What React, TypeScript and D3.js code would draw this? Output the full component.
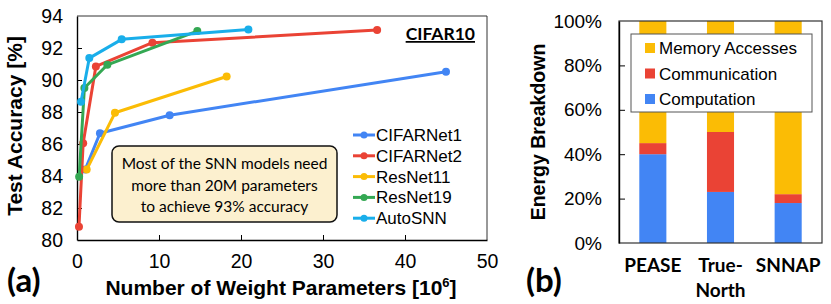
import { useEffect, useRef } from 'react';
import * as d3 from 'd3';

// ---- data: panel (a) accuracy vs. weight parameters (millions) ----
const seriesNames = ['CIFARNet1', 'CIFARNet2', 'ResNet11', 'ResNet19', 'AutoSNN'];
const seriesColors = ['#4285F4', '#EA4335', '#FBBC05', '#34A853', '#19AEEA'];
const cifarNet1Params = [1.0, 2.8, 11.3, 45.0];
const cifarNet1Acc = [84.4, 86.67, 87.8, 90.52];
const cifarNet2Params = [0.24, 0.75, 2.3, 9.2, 36.6];
const cifarNet2Acc = [80.83, 86.04, 90.85, 92.33, 93.12];
const resNet11Params = [1.18, 4.63, 18.25];
const resNet11Acc = [84.4, 87.95, 90.22];
const resNet19Params = [0.26, 0.9, 3.7, 14.67];
const resNet19Acc = [83.95, 89.5, 90.95, 93.06];
const autoSnnParams = [0.49, 1.5, 5.45, 20.9];
const autoSnnAcc = [88.64, 91.37, 92.54, 93.16];
const xTicksA = [0, 10, 20, 30, 40, 50];
const yTicksA = [80, 82, 84, 86, 88, 90, 92, 94];
const noteLines = ['Most of the SNN models need', 'more than 20M parameters', 'to achieve 93% accuracy'];

// ---- data: panel (b) energy breakdown (%) ----
const platforms = ['PEASE', 'TrueNorth', 'SNNAP'];
const platformLabels = [['PEASE'], ['True-', 'North'], ['SNNAP']];
const computation = [40, 23, 18];
const communication = [5, 27, 4];
const memoryAccesses = [55, 50, 78];
const energyKeys = ['computation', 'communication', 'memory'];
const energyNames = ['Memory Accesses', 'Communication', 'Computation'];
const energyColors = ['#4285F4', '#EA4335', '#FBBC05'];
const yTicksB = [0, 20, 40, 60, 80, 100];

const ARIAL = '"Liberation Sans", Arial, sans-serif';
const CALIBRI = 'Lato, "Open Sans", sans-serif';

const App = () => {
  const ref = useRef<SVGSVGElement>(null);

  useEffect(() => {
    const svg = d3.select(ref.current);
    svg.selectAll('*').remove();

    // ================= panel (a) =================
    const xA = d3.scaleLinear().domain([0, 50]).range([77, 487]);
    const yA = d3.scaleLinear().domain([80, 94]).range([240, 16]);

    const gA = svg.append('g');

    // frame (top and right)
    gA.append('line').attr('x1', xA(0)).attr('x2', xA(50)).attr('y1', yA(94)).attr('y2', yA(94))
      .attr('stroke', '#333').attr('stroke-width', 1);
    gA.append('line').attr('x1', xA(50)).attr('x2', xA(50)).attr('y1', yA(94)).attr('y2', yA(80))
      .attr('stroke', '#333').attr('stroke-width', 1);

    const xAxisA = gA.append('g')
      .attr('transform', `translate(0, ${yA(80)})`)
      .call(d3.axisBottom(xA).tickValues(xTicksA).tickSizeInner(-5).tickSizeOuter(0).tickPadding(14));
    const yAxisA = gA.append('g')
      .attr('transform', `translate(${xA(0)}, 0)`)
      .call(d3.axisLeft(yA).tickValues(yTicksA).tickSizeInner(-5).tickSizeOuter(0).tickPadding(14));
    [xAxisA, yAxisA].forEach(ax => {
      ax.select('.domain').attr('stroke', '#000').attr('stroke-width', 1.4);
      ax.selectAll('.tick line').attr('stroke', '#000');
      ax.selectAll('.tick text').attr('font-family', ARIAL).attr('font-size', 19.5).attr('fill', '#000');
    });
    // tick lines at the ends sit on the frame
    xAxisA.selectAll('.tick line').filter((d: any) => d === 0 || d === 50).remove();
    yAxisA.selectAll('.tick line').filter((d: any) => d === 80 || d === 94).remove();

    // annotation box
    gA.append('rect')
      .attr('x', 112).attr('y', 146).attr('width', 225).attr('height', 76)
      .attr('rx', 7).attr('fill', '#FCF0CF').attr('stroke', '#111').attr('stroke-width', 1.5);
    noteLines.forEach((t, i) => {
      gA.append('text')
        .attr('x', 224.5).attr('y', 169 + i * 21.7)
        .attr('text-anchor', 'middle')
        .attr('font-family', CALIBRI).attr('font-size', 15.5).attr('fill', '#000')
        .text(t);
    });

    // series
    const params = [cifarNet1Params, cifarNet2Params, resNet11Params, resNet19Params, autoSnnParams];
    const accs = [cifarNet1Acc, cifarNet2Acc, resNet11Acc, resNet19Acc, autoSnnAcc];
    const line = d3.line<[number, number]>().x(d => xA(d[0])).y(d => yA(d[1]));
    const drawOrder = [0, 2, 1, 3, 4];
    drawOrder.forEach(s => {
      const pts: [number, number][] = params[s].map((p, i) => [p, accs[s][i]]);
      gA.append('path').datum(pts)
        .attr('fill', 'none').attr('stroke', seriesColors[s]).attr('stroke-width', 3)
        .attr('stroke-linejoin', 'round').attr('d', line);
      gA.selectAll(null).data(pts).enter().append('circle')
        .attr('cx', d => xA(d[0])).attr('cy', d => yA(d[1])).attr('r', 4)
        .attr('fill', seriesColors[s]);
    });

    // CIFAR10 label
    gA.append('text').attr('x', 475).attr('y', 40).attr('text-anchor', 'end')
      .attr('font-family', CALIBRI).attr('font-weight', 'bold').attr('font-size', 17.5)
      .attr('text-decoration', 'underline').attr('fill', '#000').text('CIFAR10');

    // legend
    seriesNames.forEach((name, i) => {
      const y = 135 + i * 20.8;
      gA.append('line').attr('x1', 353).attr('x2', 375).attr('y1', y).attr('y2', y)
        .attr('stroke', seriesColors[i]).attr('stroke-width', 3);
      gA.append('circle').attr('cx', 364).attr('cy', y).attr('r', 3.5).attr('fill', seriesColors[i]);
      gA.append('text').attr('x', 376).attr('y', y + 6)
        .attr('font-family', ARIAL).attr('font-size', 17).attr('fill', '#000').text(name);
    });

    // axis titles
    gA.append('text')
      .attr('transform', `translate(22, 126) rotate(-90)`)
      .attr('text-anchor', 'middle')
      .attr('font-family', ARIAL).attr('font-weight', 'bold').attr('font-size', 21).attr('fill', '#000')
      .text('Test Accuracy [%]');
    const xt = gA.append('text')
      .attr('x', 281).attr('y', 295).attr('text-anchor', 'middle')
      .attr('font-family', ARIAL).attr('font-weight', 'bold').attr('font-size', 21).attr('fill', '#000');
    xt.append('tspan').text('Number of Weight Parameters [10');
    xt.append('tspan').attr('font-size', 13).attr('dy', -8).text('6');
    xt.append('tspan').attr('dy', 8).text(']');

    gA.append('text').attr('x', 7).attr('y', 292)
      .attr('font-family', CALIBRI).attr('font-weight', 'bold').attr('font-size', 33).attr('fill', '#000')
      .text('(a)');

    // ================= panel (b) =================
    const xB = d3.scaleBand().domain(platforms).range([619, 822]).paddingInner(0.6).paddingOuter(0.3);
    const yB = d3.scaleLinear().domain([0, 100]).range([243, 21]);
    const gB = svg.append('g');

    const rows = platforms.map((p, i) => ({
      platform: p,
      computation: computation[i],
      communication: communication[i],
      memory: memoryAccesses[i],
    }));
    const stacked = d3.stack<any>().keys(energyKeys)(rows);
    stacked.forEach((layer, k) => {
      gB.selectAll(null).data(layer).enter().append('rect')
        .attr('x', (d: any) => xB(d.data.platform)!)
        .attr('width', xB.bandwidth())
        .attr('y', d => yB(d[1]))
        .attr('height', d => yB(d[0]) - yB(d[1]))
        .attr('fill', energyColors[k]);
    });

    // frame
    gB.append('rect').attr('x', 619).attr('y', yB(100)).attr('width', 822 - 619).attr('height', yB(0) - yB(100))
      .attr('fill', 'none').attr('stroke', '#333').attr('stroke-width', 1.2);

    const yAxisB = gB.append('g')
      .attr('transform', `translate(619, 0)`)
      .call(d3.axisLeft(yB).tickValues(yTicksB).tickFormat(d => `${d}%`).tickSizeInner(-6).tickSizeOuter(0).tickPadding(17));
    yAxisB.select('.domain').attr('stroke', '#000').attr('stroke-width', 1.4);
    yAxisB.selectAll('.tick line').attr('stroke', '#000');
    yAxisB.selectAll('.tick line').filter((d: any) => d === 0 || d === 100).remove();
    yAxisB.selectAll('.tick text').attr('font-family', ARIAL).attr('font-size', 19).attr('fill', '#000');

    // category labels
    platforms.forEach((p, i) => {
      platformLabels[i].forEach((t, j) => {
        gB.append('text')
          .attr('x', xB(p)! + xB.bandwidth() / 2).attr('y', 272 + j * 25)
          .attr('text-anchor', 'middle')
          .attr('font-family', CALIBRI).attr('font-weight', 'bold').attr('font-size', 19).attr('fill', '#000')
          .text(t);
      });
    });

    // legend
    gB.append('rect').attr('x', 631).attr('y', 34).attr('width', 181).attr('height', 78)
      .attr('fill', '#fff').attr('stroke', '#555').attr('stroke-width', 1);
    energyNames.forEach((name, i) => {
      const y = 48 + i * 25.5;
      gB.append('rect').attr('x', 645).attr('y', y - 5).attr('width', 10).attr('height', 10)
        .attr('fill', energyColors[2 - i]);
      gB.append('text').attr('x', 659).attr('y', y + 6)
        .attr('font-family', ARIAL).attr('font-size', 17).attr('fill', '#000').text(name);
    });

    gB.append('text')
      .attr('transform', `translate(545, 132) rotate(-90)`)
      .attr('text-anchor', 'middle')
      .attr('font-family', ARIAL).attr('font-weight', 'bold').attr('font-size', 19.5).attr('fill', '#000')
      .text('Energy Breakdown');

    gB.append('text').attr('x', 526).attr('y', 292)
      .attr('font-family', CALIBRI).attr('font-weight', 'bold').attr('font-size', 33).attr('fill', '#000')
      .text('(b)');
  }, []);

  return (
    <svg ref={ref} width={831} height={304}
      style={{ position: 'absolute', left: 0, top: 0, background: '#fff' }} />
  );
};

export default App;
